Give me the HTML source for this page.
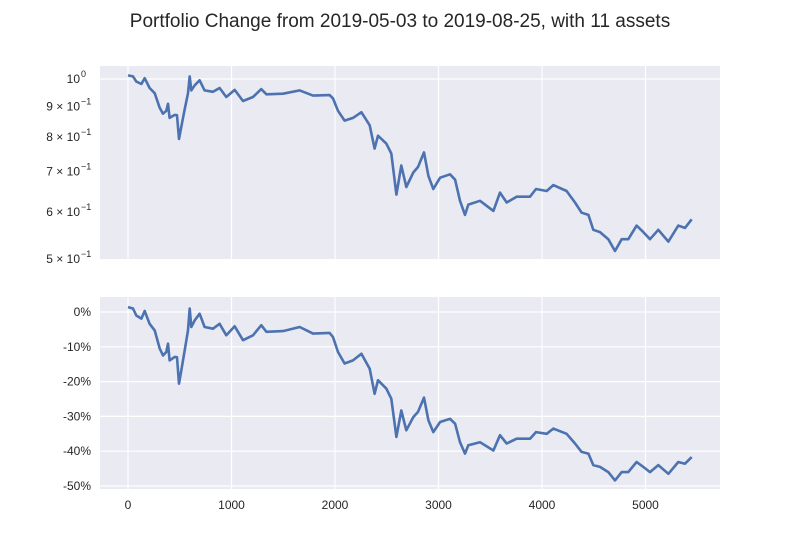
<!DOCTYPE html>
<html><head><meta charset="utf-8"><style>
body{margin:0;background:#fff;}
svg{display:block;font-family:"Liberation Sans","DejaVu Sans",sans-serif;}
</style></head><body>
<svg width="800" height="550" viewBox="0 0 800 550">
<text x="400" y="27" text-anchor="middle" font-size="19" fill="#262626">Portfolio Change from 2019-05-03 to 2019-08-25, with 11 assets</text>
<g id="top"></g>
<g id="bot"></g>
</svg>
<script>
const idx = [0,48,80,129,161,209,258,306,338,370,386,402,451,473,493,515,548,580,596,612,644,692,740,821,885,950,1031,1111,1208,1288,1337,1498,1659,1787,1948,1981,2029,2093,2174,2255,2335,2383,2415,2496,2544,2593,2641,2689,2757,2802,2860,2902,2950,3015,3111,3160,3208,3256,3288,3401,3530,3594,3659,3755,3884,3942,4045,4109,4238,4319,4383,4448,4496,4560,4641,4705,4770,4834,4914,4979,5043,5124,5221,5317,5382,5446];
const pct = [1.4,1,-1,-1.9,0.3,-3.4,-5.3,-10.5,-12.5,-11.5,-9.1,-13.9,-12.9,-13,-20.6,-16.8,-11,-5.3,1,-4.3,-2.4,-0.5,-4.3,-4.8,-3.4,-6.7,-4.1,-8.1,-6.7,-3.8,-5.7,-5.5,-4.3,-6.2,-6,-7.2,-11.5,-14.8,-13.9,-12,-16.3,-23.5,-19.6,-22,-24.9,-35.9,-28.3,-34,-30.2,-28.7,-24.6,-31.1,-34.5,-31.6,-30.7,-32.1,-37.4,-40.7,-38.3,-37.4,-39.8,-35.4,-37.8,-36.4,-36.4,-34.5,-35,-33.5,-35,-37.8,-40.2,-40.7,-44,-44.5,-46,-48.4,-46,-46,-43.1,-44.5,-46,-44,-46.5,-43.1,-43.6,-41.7];
const xTicks = [0,1000,2000,3000,4000,5000];
const pctTicks = [0,-10,-20,-30,-40,-50];
const logTicks = [1,0.9,0.8,0.7,0.6,0.5];
const logLabels = [["10","0"],["9 × 10","−1"],["8 × 10","−1"],["7 × 10","−1"],["6 × 10","−1"],["5 × 10","−1"]];

const NS="http://www.w3.org/2000/svg";
function mk(tag,attrs,parent){const e=document.createElementNS(NS,tag);for(const k in attrs)e.setAttribute(k,attrs[k]);parent.appendChild(e);return e;}
const L=100,R=720;
const xs=v=>128+v*0.1035;
const yTop=v=>79-Math.log(v)*260;
const yBot=v=>312-v*3.48;

function panel(g,top,bottom,yfn,vals,ticks,labelFn,gridAll,showX){
  const bg=mk('rect',{x:L,y:top,width:R-L,height:bottom-top,fill:'#EAEAF2'},g);
  
  
  xTicks.forEach(t=>{
    const l=mk('line',{x1:xs(t),x2:xs(t),y1:top,y2:bottom,stroke:'#fff','stroke-width':1.2},g);
    
    
    if(showX){
      const tx=mk('text',{x:xs(t),y:bottom+20,'text-anchor':'middle','font-size':12,fill:'#262626'},g);
      tx.textContent=t;
      
      
    }
  });
  ticks.forEach((t,i)=>{
    const y=yfn(t);
    if(gridAll||i===0){
      const l=mk('line',{x1:L,x2:R,y1:y,y2:y,stroke:'#fff','stroke-width':1.2},g);
      
      
    }
    labelFn(g,t,i,y);
  });
  const pts=idx.map((v,i)=>xs(v).toFixed(1)+','+yfn(vals[i]).toFixed(1)).join(' ');
  const pl=mk('polyline',{points:pts,fill:'none',stroke:'#4C72B0','stroke-width':2.6,'stroke-linejoin':'round'},g);
  
  
}
const topG=document.getElementById('top'), botG=document.getElementById('bot');
panel(topG,66,259,yTop,pct.map(p=>1+p/100),logTicks,(g,t,i,y)=>{
  const tx=mk('text',{x:80,y:y+4,'text-anchor':'end','font-size':12,fill:'#262626'},g);
  tx.textContent=logLabels[i][0];
  
  
  const s=mk('text',{x:81,y:y-2,'text-anchor':'start','font-size':9,fill:'#262626'},g);
  s.textContent=logLabels[i][1];
  
  
},false,false);
panel(botG,297,489,yBot,pct,pctTicks,(g,t,i,y)=>{
  const tx=mk('text',{x:91,y:y+4,'text-anchor':'end','font-size':12,fill:'#262626'},g);
  tx.textContent=t+'%';
  
  
},true,true);
</script>
</body></html>
